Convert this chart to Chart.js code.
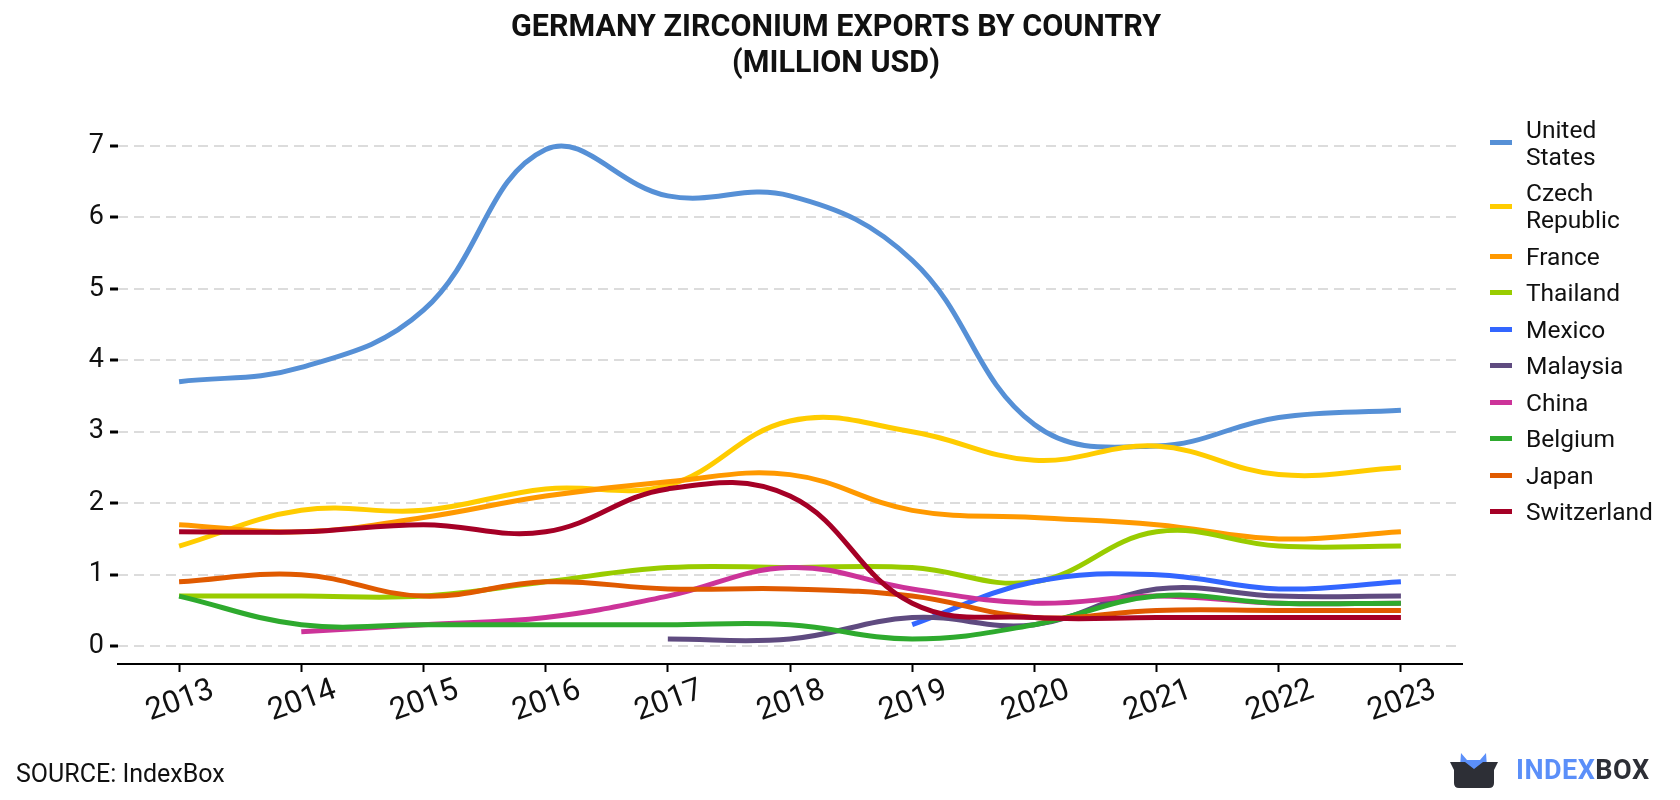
<!DOCTYPE html>
<html>
<head>
<meta charset="utf-8">
<script src="https://cdn.jsdelivr.net/npm/chart.js@4.4.0/dist/chart.umd.min.js"></script>
<style>
  html, body { margin: 0; padding: 0; background: #fff; }
  body { width: 1680px; height: 800px; position: relative; overflow: hidden; font-family: Roboto, "Noto Sans", sans-serif; }
  #wrap { position: absolute; left: 0; top: 0; width: 1680px; height: 800px; }
  #title { position: absolute; left: 0; width: 1672px; top: 8px; text-align: center; font-weight: bold; font-size: 30.5px; line-height: 36px; color: #111; }
  #legend { position: absolute; left: 1490px; top: 111px; }
  .li { display: flex; align-items: center; padding: 4.75px 0; }
  .sw { width: 22px; height: 5px; margin-right: 14px; flex: none; }
  .lt { font-size: 24.5px; line-height: 27px; color: #111; }
  #source { position: absolute; left: 16px; top: 759px; font-size: 25px; line-height: 30px; color: #111; }
  #logo { position: absolute; left: 1450px; top: 752px; display: flex; align-items: center; }
  #logo .txt { font-weight: bold; font-size: 27px; margin-left: 18px; letter-spacing: 0.5px; }
</style>
</head>
<body>
<div id="wrap"><canvas id="c" width="1680" height="800"></canvas></div>
<div id="title">GERMANY ZIRCONIUM EXPORTS BY COUNTRY<br>(MILLION USD)</div>
<div id="legend"></div>
<div id="source">SOURCE: IndexBox</div>
<div id="logo">
  <svg width="48" height="36" viewBox="0 0 48 36">
    <path d="M11 1 L17 8 L30 8 L36 1 L37 15 L24 22 L10 15 Z" fill="#5b8ff9"/>
    <path d="M0 10 L15 10 L24 17 L33 10 L48 10 L44 18 L44 31 Q44 36 39 36 L9 36 Q4 36 4 31 L4 18 Z" fill="#2d2f36"/>
  </svg>
  <span class="txt"><span style="color:#5b8ff9">INDEX</span><span style="color:#2d2f36">BOX</span></span>
</div>
<script>
const years = ["2013","2014","2015","2016","2017","2018","2019","2020","2021","2022","2023"];
const yTicks = [0,1,2,3,4,5,6,7];

const unitedStates = [3.7, 3.9, 4.7, 6.95, 6.3, 6.3, 5.4, 3.1, 2.8, 3.2, 3.3];
const czechRepublic = [1.4, 1.9, 1.9, 2.2, 2.25, 3.15, 3.0, 2.6, 2.8, 2.4, 2.5];
const france = [1.7, 1.6, 1.8, 2.1, 2.3, 2.4, 1.9, 1.8, 1.7, 1.5, 1.6];
const thailand = [0.7, 0.7, 0.7, 0.9, 1.1, 1.1, 1.1, 0.9, 1.6, 1.4, 1.4];
const mexico = [null, null, null, null, null, null, 0.3, 0.9, 1.0, 0.8, 0.9];
const malaysia = [null, null, null, null, 0.1, 0.1, 0.4, 0.3, 0.8, 0.7, 0.7];
const china = [null, 0.2, 0.3, 0.4, 0.7, 1.1, 0.8, 0.6, 0.7, 0.6, 0.6];
const belgium = [0.7, 0.3, 0.3, 0.3, 0.3, 0.3, 0.1, 0.3, 0.7, 0.6, 0.6];
const japan = [0.9, 1.0, 0.7, 0.9, 0.8, 0.8, 0.7, 0.4, 0.5, 0.5, 0.5];
const switzerland = [1.6, 1.6, 1.7, 1.6, 2.2, 2.1, 0.6, 0.4, 0.4, 0.4, 0.4];

const seriesNames = [["United","States"], ["Czech","Republic"], ["France"], ["Thailand"], ["Mexico"], ["Malaysia"], ["China"], ["Belgium"], ["Japan"], ["Switzerland"]];
const seriesData = [unitedStates, czechRepublic, france, thailand, mexico, malaysia, china, belgium, japan, switzerland];
const seriesColors = ["#5690d6", "#ffcc00", "#ff9900", "#99cc00", "#3366ff", "#5f4b80", "#cc3399", "#2eaa2e", "#e05a00", "#a50026"];

const datasets = seriesData.map((d, i) => ({
  label: seriesNames[i].join(" "),
  data: d,
  borderColor: seriesColors[i],
  backgroundColor: seriesColors[i],
  borderWidth: 5,
  pointRadius: 0,
  pointHoverRadius: 0,
  tension: 0.4,
  fill: false,
  order: -i
}));

// HTML legend
const lg = document.getElementById('legend');
seriesNames.forEach((n, i) => {
  const row = document.createElement('div');
  row.className = 'li';
  const sw = document.createElement('div');
  sw.className = 'sw';
  sw.style.background = seriesColors[i];
  const t = document.createElement('div');
  t.className = 'lt';
  t.innerHTML = n.join('<br>');
  row.appendChild(sw); row.appendChild(t);
  lg.appendChild(row);
});

new Chart(document.getElementById('c'), {
  type: 'line',
  data: { labels: years, datasets },
  options: {
    responsive: false,
    animation: false,
    devicePixelRatio: 1,
    layout: { padding: { top: 128, right: 218, bottom: 36, left: 0 } },
    plugins: { legend: { display: false }, title: { display: false }, tooltip: { enabled: false } },
    scales: {
      x: {
        offset: true,
        afterFit: s => { s.height = 100; },
        border: { display: true, color: '#000', width: 2 },
        grid: { drawOnChartArea: false, drawTicks: true, tickLength: 8, tickColor: '#000', tickWidth: 2, color: '#000' },
        ticks: { color: '#111', font: { family: 'Roboto', size: 31 }, minRotation: 20, maxRotation: 20, labelOffset: 34, padding: 0 }
      },
      y: {
        min: -0.25,
        max: 7.25,
        afterFit: s => { s.width = 118; },
        afterBuildTicks: s => { s.ticks = yTicks.map(v => ({ value: v })); },
        border: { display: false, dash: [10, 6] },
        grid: { color: '#dcdcdc', lineWidth: 2, tickColor: '#000', tickLength: 8, tickWidth: 3, tickBorderDash: [] },
        ticks: { color: '#111', font: { family: 'Roboto', size: 27 }, padding: 6 }
      }
    }
  }
});
</script>
</body>
</html>
